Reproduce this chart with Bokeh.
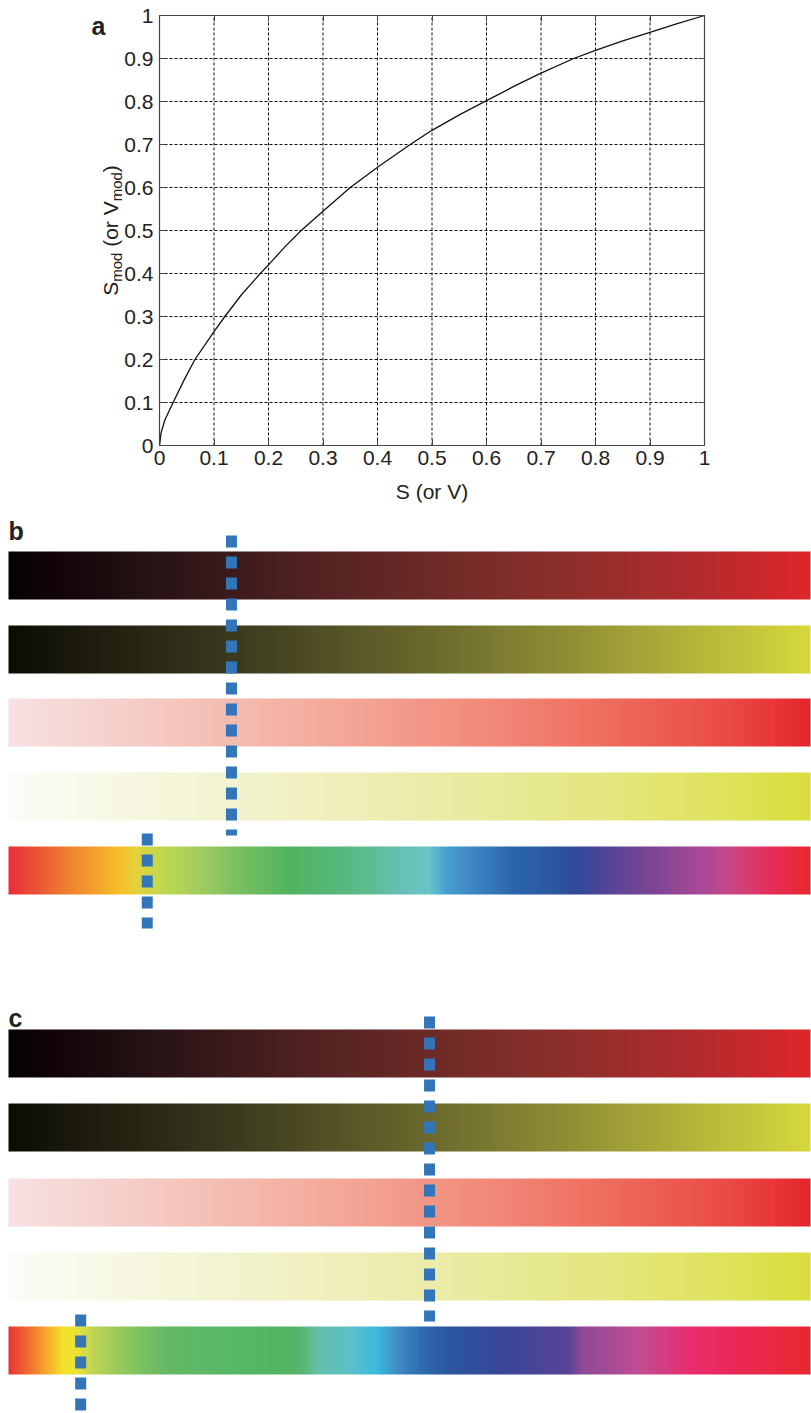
import numpy as np
from bokeh.plotting import figure
from bokeh.models import Range1d, LinearAxis, FixedTicker, Label
from bokeh.core.properties import value
from bokeh.embed import file_html
from bokeh.resources import INLINE

# ---------------- data: panel a ----------------
s_values = [0, 0.003, 0.01, 0.025, 0.045, 0.065, 0.1, 0.12, 0.15, 0.185, 0.2, 0.23, 0.26,
            0.3, 0.33, 0.35, 0.4, 0.46, 0.5, 0.55, 0.6, 0.65, 0.7, 0.76, 0.8, 0.85, 0.9,
            0.95, 1.0]
s_mod_values = [0, 0.03, 0.06, 0.1, 0.152, 0.2, 0.265, 0.3, 0.35, 0.4, 0.42, 0.462, 0.5,
                0.545, 0.578, 0.6, 0.647, 0.7, 0.733, 0.769, 0.802, 0.835, 0.866, 0.9,
                0.919, 0.941, 0.961, 0.981, 1.0]
x_ticks = [0, 0.1, 0.2, 0.3, 0.4, 0.5, 0.6, 0.7, 0.8, 0.9, 1]
x_tick_labels = ["0", "0.1", "0.2", "0.3", "0.4", "0.5", "0.6", "0.7", "0.8", "0.9", "1"]
y_ticks = [0, 0.1, 0.2, 0.3, 0.4, 0.5, 0.6, 0.7, 0.8, 0.9, 1]
y_tick_labels = ["0", "0.1", "0.2", "0.3", "0.4", "0.5", "0.6", "0.7", "0.8", "0.9", "1"]

# ---------------- data: panels b, c (colour-bar stops) ----------------
dark_red_pos = [0.0, 0.06, 0.15, 0.25, 0.35, 0.45, 0.55, 0.65, 0.75, 0.85, 0.93, 1.0]
dark_red_col = ["#060204", "#120407", "#211012", "#35181a", "#4c201f", "#5e2625",
                "#712b28", "#852e2a", "#982e2c", "#b02b2d", "#c8282c", "#e0262a"]
dark_yel_pos = [0.0, 0.10, 0.25, 0.40, 0.55, 0.70, 0.85, 1.0]
dark_yel_col = ["#0d0c04", "#1d1c0e", "#35341c", "#525126", "#6f6e2e", "#908f35",
                "#b3b33a", "#d6d83c"]
light_red_pos = [0.0, 0.15, 0.30, 0.45, 0.60, 0.75, 0.90, 1.0]
light_red_col = ["#f6e1e2", "#f5cec8", "#f4b8ac", "#f3a292", "#f1897a", "#ee6c5c",
                 "#ea4a42", "#e4262b"]
light_yel_pos = [0.0, 0.15, 0.30, 0.45, 0.60, 0.75, 0.90, 1.0]
light_yel_col = ["#fcfcf8", "#f7f7e2", "#f2f2cc", "#eeeeb4", "#e8ea9c", "#e4e67e",
                 "#dfe25a", "#dadd3a"]
hue_b_pos = [0.000, 0.036, 0.074, 0.115, 0.136, 0.156, 0.186, 0.239, 0.281, 0.348,
             0.405, 0.448, 0.489, 0.524, 0.545, 0.579, 0.632, 0.682, 0.711, 0.753,
             0.807, 0.869, 0.910, 0.953, 1.000]
hue_b_col = ["#e8303a", "#eb5434", "#ef8232", "#f5a82c", "#f6be2a", "#e6d038",
             "#c4d84e", "#a2cc5e", "#7ec060", "#52b460", "#54b676", "#5cbc90",
             "#66c0b4", "#6ac4c8", "#46a2d4", "#3e86c2", "#2a64ac", "#2c56a0",
             "#32489a", "#5a4496", "#804494", "#ac4a98", "#d0447e", "#e62c58", "#e8282e"]
hue_c_pos = [0.000, 0.024, 0.049, 0.067, 0.084, 0.106, 0.156, 0.198, 0.281, 0.352,
             0.370, 0.385, 0.426, 0.460, 0.483, 0.514, 0.549, 0.620, 0.698, 0.716,
             0.786, 0.853, 0.910, 1.000]
hue_c_col = ["#e83434", "#ef6c30", "#f8ae2a", "#f4e02c", "#eae436", "#bcd454",
             "#84c460", "#64b864", "#56b866", "#52b462", "#58b878", "#64c0a8",
             "#5cc0c8", "#3abadc", "#4090c8", "#2e6cb0", "#2a56a0", "#3b4598",
             "#584496", "#904896", "#c04d94", "#ea2c6c", "#ea2856", "#e8282e"]
# marker values (fraction of the bar)
b_sv_marker = 0.278
b_hue_marker = 0.173
c_sv_marker = 0.525
c_hue_marker = 0.090

FONT = "Liberation Sans"
BLUE = "#3375b9"
AXC = "#444444"
TXT = "#222222"
W = 811
H1 = 505
H2 = 908

# ---------------- panel a ----------------
# plot box: x 159..704, y 15..445 (px); the frame is extended on all sides so that
# the panel letter, rotated y label and tick labels lie inside it.
FW, FH = 545, 430
BOT, RGT = 3, 5
pa = figure(width=W, height=H1,
            x_range=Range1d(-(159 - 60) / FW, 1 + (W - RGT - 704) / FW),
            y_range=Range1d(-(H1 - BOT - 445) / FH, 1 + 10 / FH),
            output_backend="svg", toolbar_location=None,
            min_border_left=60, min_border_right=RGT,
            min_border_top=5, min_border_bottom=BOT)
pa.background_fill_color = "white"
pa.outline_line_color = None
pa.grid.visible = False

xa = pa.xaxis[0]
xa.ticker = FixedTicker(ticks=x_ticks)
xa.fixed_location = 0
xa.bounds = (0, 1)
xa.major_label_text_font_size = "1px"
xa.major_label_text_color = None
xa.major_label_standoff = 0

ya = pa.yaxis[0]
ya.ticker = FixedTicker(ticks=y_ticks)
ya.major_label_overrides = dict(zip(y_ticks, y_tick_labels))
ya.fixed_location = 0
ya.bounds = (0, 1)
ya.major_label_standoff = 6
ya.major_label_text_font = FONT
ya.major_label_text_font_size = "21px"
ya.major_label_text_color = TXT

top_ax = LinearAxis(ticker=FixedTicker(ticks=x_ticks), fixed_location=1, bounds=(0, 1),
                    major_label_text_font_size="1px", major_label_text_color=None,
                    major_label_standoff=0)
right_ax = LinearAxis(ticker=FixedTicker(ticks=y_ticks), fixed_location=1, bounds=(0, 1),
                      major_label_text_font_size="1px", major_label_text_color=None,
                      major_label_standoff=0)
pa.add_layout(top_ax, "above")
pa.add_layout(right_ax, "right")

for ax in (xa, ya, top_ax, right_ax):
    ax.major_tick_in = 6
    ax.major_tick_out = 0
    ax.minor_tick_line_color = None
    ax.axis_line_color = AXC
    ax.axis_line_width = 1.2
    ax.major_tick_line_color = AXC

# dotted grid inside the plot box
gx = x_ticks[1:-1]
gy = y_ticks[1:-1]
pa.segment(x0=gx, y0=[0] * len(gx), x1=gx, y1=[1] * len(gx),
           line_color="#111111", line_width=1, line_dash="3 2")
pa.segment(x0=[0] * len(gy), y0=gy, x1=[1] * len(gy), y1=gy,
           line_color="#111111", line_width=1, line_dash="3 2")

pa.line(s_values, s_mod_values, line_color="#111111", line_width=1.3)

# x tick labels and x axis title
pa.text(x=x_ticks, y=[0] * len(x_ticks), text=x_tick_labels, text_align="center",
        text_baseline="top", y_offset=5, text_font=value(FONT), text_font_size="21px",
        text_color=TXT)
pa.add_layout(Label(x=0.5, y=(445 - 491) / FH, text="S (or V)", text_align="center",
                    text_baseline="middle", text_font=FONT, text_font_size="21px",
                    text_color=TXT))

# rotated y-axis label with subscripts
NB = "\u00a0"
char_w = {"S": 0.667, "m": 0.833, "o": 0.556, "d": 0.556, NB: 0.278, "(": 0.333,
          "r": 0.333, "V": 0.667, ")": 0.333}
pieces = [("S", 21, False), ("mod", 15, True), (NB + "(or" + NB + "V", 21, False),
          ("mod", 15, True), (")", 21, False)]
widths = [sum(char_w[c] for c in t) * fs for t, fs, _ in pieces]
total = sum(widths)
ypos = 0.5 - total / 2 / FH
for (t, fs, sub), w in zip(pieces, widths):
    pa.add_layout(Label(x=((115.5 if sub else 109.5) - 159) / FW, y=ypos,
                        text=t, angle=np.pi / 2, text_align="left", text_baseline="alphabetic",
                        text_font=FONT, text_font_size=f"{fs}px", text_color=TXT))
    ypos += w / FH

pa.add_layout(Label(x=(91 - 159) / FW, y=(445 - 25) / FH, text="a", text_font=FONT,
                    text_font_size="25px", text_font_style="bold", text_color=TXT,
                    text_align="left", text_baseline="alphabetic"))

# ---------------- panels b, c ----------------
pb = figure(width=W, height=H2, x_range=Range1d(-8 / 802, 1 + 1 / 802), y_range=Range1d(H2, 0),
            output_backend="svg", toolbar_location=None, min_border=0,
            x_axis_location=None, y_axis_location=None)
pb.grid.visible = False
pb.outline_line_color = None


def gradient(pos, cols, n=802):
    t = np.linspace(0, 1, n)
    rgb = np.array([[int(h[i:i + 2], 16) for i in (1, 3, 5)] for h in cols], dtype=float)
    img = np.empty((1, n), dtype=np.uint32)
    v = img.view(dtype=np.uint8).reshape((1, n, 4))
    for k in range(3):
        v[0, :, k] = np.round(np.interp(t, pos, rgb[:, k])).astype(np.uint8)
    v[0, :, 3] = 255
    return img


bar_sets = [
    ([46, 120, 193, 267, 341], hue_b_pos, hue_b_col),
    ([524, 598, 673, 747, 821], hue_c_pos, hue_c_col),
]
for tops, hp, hc in bar_sets:
    specs = [(dark_red_pos, dark_red_col), (dark_yel_pos, dark_yel_col),
             (light_red_pos, light_red_col), (light_yel_pos, light_yel_col), (hp, hc)]
    for top, (p_, c_) in zip(tops, specs):
        pb.image_rgba(image=[gradient(p_, c_)], x=0, y=top, dw=1, dh=48)

dash_specs = [(b_sv_marker, 30, 330), (b_hue_marker, 328, 423),
              (c_sv_marker, 511, 816), (c_hue_marker, 809, 906)]
for xv, y0, y1 in dash_specs:
    pb.segment(x0=[xv], y0=[y0], x1=[xv], y1=[y1], line_color=BLUE, line_width=11,
               line_dash="12 9", line_cap="butt")

for txt, yb in (("b", 25), ("c", 512)):
    pb.add_layout(Label(x=0, y=yb, text=txt, text_font=FONT, text_font_size="25px",
                        text_font_style="bold", text_color=TXT,
                        text_align="left", text_baseline="alphabetic"))

open("out.html", "w").write(file_html([pa, pb], INLINE))
